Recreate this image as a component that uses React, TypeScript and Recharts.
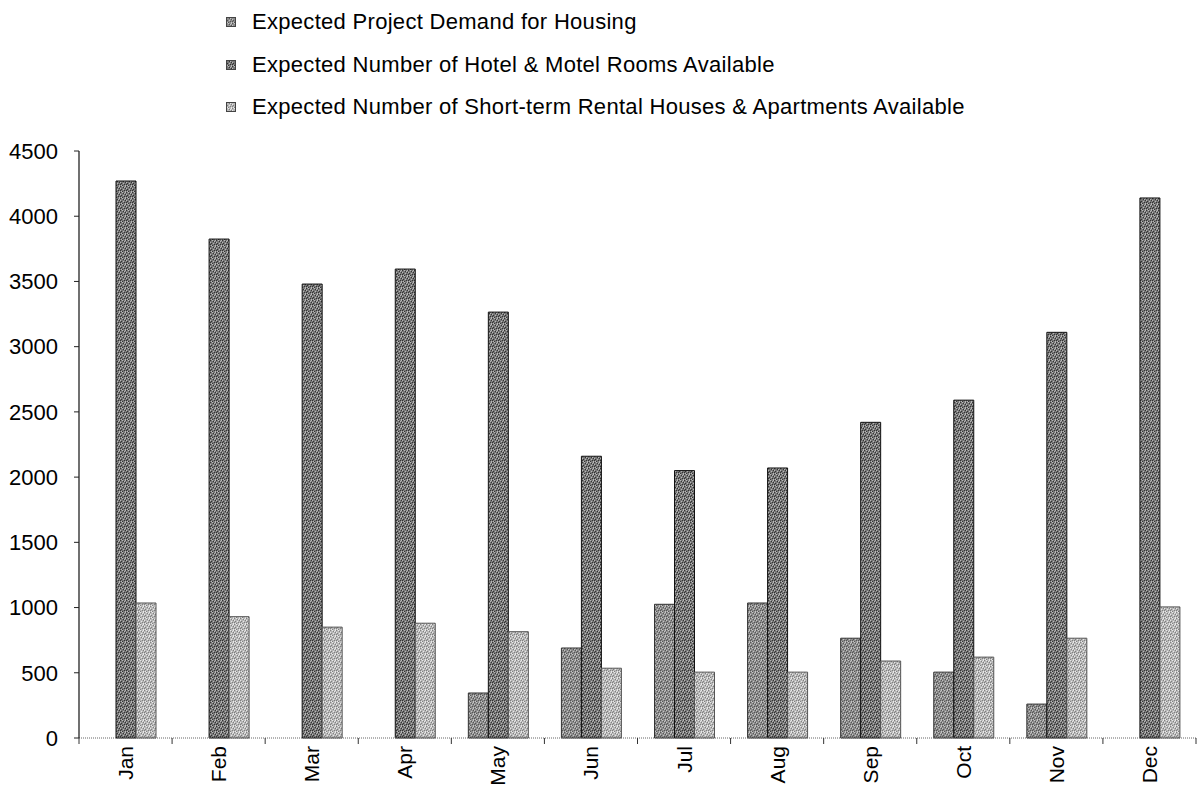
import { BarChart, Bar, XAxis, YAxis, Legend } from "recharts";

const MONTHS = ["Jan", "Feb", "Mar", "Apr", "May", "Jun", "Jul", "Aug", "Sep", "Oct", "Nov", "Dec"];
const DEMAND = [0, 0, 0, 0, 345, 690, 1025, 1035, 765, 505, 260, 0];
const HOTEL = [4270, 3825, 3480, 3595, 3265, 2160, 2050, 2070, 2420, 2590, 3110, 4140];
const RENTAL = [1035, 930, 850, 880, 815, 535, 505, 505, 590, 620, 765, 1005];
const Y_TICKS = [0, 500, 1000, 1500, 2000, 2500, 3000, 3500, 4000, 4500];

const SERIES = [
  { key: "demand", name: "Expected Project Demand for Housing", pattern: "pat-demand", stroke: "#333" },
  { key: "hotel", name: "Expected Number of Hotel & Motel Rooms Available", pattern: "pat-hotel", stroke: "#111" },
  { key: "rental", name: "Expected Number of Short-term Rental Houses & Apartments Available", pattern: "pat-rental", stroke: "#555" },
];

const rows = MONTHS.map((m, i) => ({ month: m, demand: DEMAND[i], hotel: HOTEL[i], rental: RENTAL[i] }));

const W = 1198;
const H = 805;
const Y_AXIS_W = 79;
const RIGHT = 2;
const BAND = (W - Y_AXIS_W - RIGHT) / MONTHS.length;
const FONT = "'Liberation Sans', Arial, sans-serif";

// fixed speckle layout for a 6x6 tile, gives the bars a print-like grain
const DARK_DOTS = [[0, 0], [3, 1], [1, 3], [4, 4], [2, 5], [5, 2], [0, 4]];
const LIGHT_DOTS = [[2, 0], [5, 0], [0, 2], [3, 3], [1, 5], [4, 1], [5, 5]];

function Speckle({ id, base, dark, light }: { id: string; base: string; dark: string; light: string }) {
  return (
    <pattern id={id} width={6} height={6} patternUnits="userSpaceOnUse">
      <rect width={6} height={6} fill={base} />
      {DARK_DOTS.map(([x, y], i) => (
        <rect key={"d" + i} x={x} y={y} width={1} height={1} fill={dark} />
      ))}
      {LIGHT_DOTS.map(([x, y], i) => (
        <rect key={"l" + i} x={x} y={y} width={1} height={1} fill={light} />
      ))}
    </pattern>
  );
}

function LegendBox() {
  return (
    <div style={{ position: "relative", width: W, height: 151, fontFamily: FONT, fontSize: 22, color: "#000" }}>
      {SERIES.map((s, i) => (
        <div
          key={s.key}
          style={{ position: "absolute", left: 226, top: 9 + i * 42.5, height: 26, display: "flex", alignItems: "center" }}
        >
          <svg width={10} height={10} style={{ display: "block" }}>
            <rect x={0.5} y={0.5} width={9} height={9} fill={`url(#${s.pattern})`} stroke="#444" strokeWidth={1} />
          </svg>
          <span style={{ marginLeft: 16, whiteSpace: "nowrap", letterSpacing: 0.3 }}>{s.name}</span>
        </div>
      ))}
    </div>
  );
}

function MonthTick(props: any) {
  const { x, y, payload, index } = props;
  const left = x - BAND / 2;
  const right = x + BAND / 2;
  return (
    <g>
      <line x1={left} x2={left} y1={y} y2={y + 6} stroke="#333" strokeWidth={1} />
      {index === MONTHS.length - 1 && <line x1={right} x2={right} y1={y} y2={y + 6} stroke="#333" strokeWidth={1} />}
      <text
        x={x}
        y={y + 8}
        transform={`rotate(-90 ${x} ${y + 8})`}
        textAnchor="end"
        dominantBaseline="central"
        fontFamily={FONT}
        fontSize={21}
        fill="#000"
      >
        {payload.value}
      </text>
    </g>
  );
}

export default function App() {
  return (
    <div style={{ position: "absolute", left: 0, top: 0, width: W, height: H, background: "#fff" }}>
      <BarChart
        width={W}
        height={H}
        data={rows}
        margin={{ top: 0, right: RIGHT, left: 0, bottom: 0 }}
        barSize={20}
        barGap={0}
      >
        <defs>
          <Speckle id="pat-demand" base="#8c8c8c" dark="#555" light="#c4c4c4" />
          <Speckle id="pat-hotel" base="#777" dark="#333" light="#b8b8b8" />
          <Speckle id="pat-rental" base="#b8b8b8" dark="#808080" light="#e8e8e8" />
        </defs>
        <Legend
          verticalAlign="top"
          content={() => <LegendBox />}
          wrapperStyle={{ top: 0, left: 0, width: W, height: 151 }}
        />
        <XAxis
          dataKey="month"
          height={67}
          tickSize={0}
          tickMargin={0}
          tickLine={false}
          axisLine={{ stroke: "#666", strokeDasharray: "1 1" }}
          tick={<MonthTick />}
          interval={0}
        />
        <YAxis
          width={Y_AXIS_W}
          domain={[0, 4500]}
          ticks={Y_TICKS}
          tickSize={5}
          tickMargin={16}
          axisLine={{ stroke: "#111", strokeWidth: 1.2 }}
          tickLine={{ stroke: "#222" }}
          tick={{ fontFamily: FONT, fontSize: 22, fill: "#000" }}
          allowDecimals={false}
          interval={0}
        />
        {SERIES.map((s) => (
          <Bar
            key={s.key}
            dataKey={s.key}
            name={s.name}
            fill={`url(#${s.pattern})`}
            stroke={s.stroke}
            strokeWidth={1}
            isAnimationActive={false}
          />
        ))}
      </BarChart>
    </div>
  );
}
